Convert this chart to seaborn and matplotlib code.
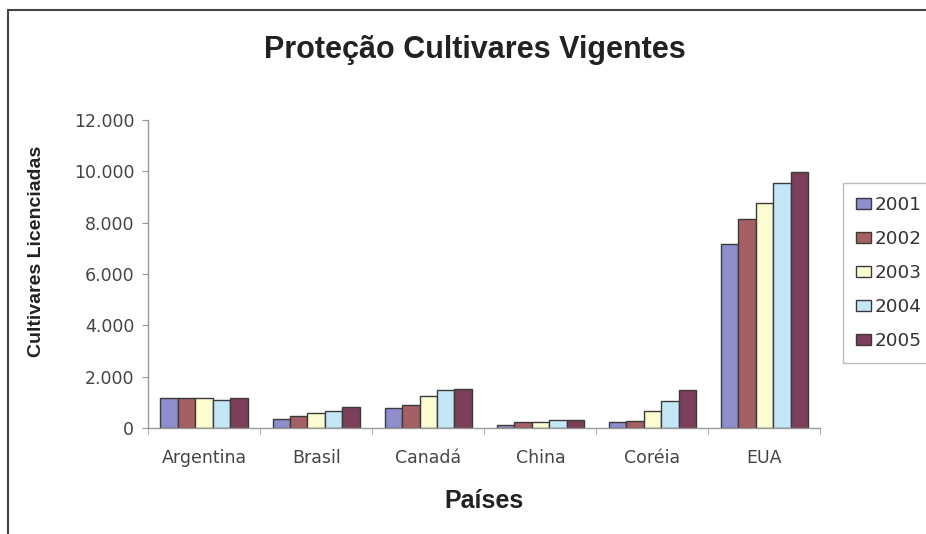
import pandas as pd
import seaborn as sns
import matplotlib.pyplot as plt
from matplotlib.lines import Line2D
from matplotlib.ticker import FuncFormatter, MultipleLocator

# Dados
paises = ['Argentina', 'Brasil', 'Canadá', 'China', 'Coréia', 'EUA']
anos = ['2001', '2002', '2003', '2004', '2005']
v2001 = [1150, 350, 780, 120, 240, 7170]
v2002 = [1150, 470, 900, 230, 270, 8140]
v2003 = [1150, 580, 1250, 230, 660, 8770]
v2004 = [1100, 660, 1480, 310, 1050, 9550]
v2005 = [1150, 820, 1520, 310, 1480, 9970]
cores = ['#8f8dcb', '#a65f63', '#fdfbd0', '#c3e7f7', '#7b3f59']

df = pd.DataFrame({'País': paises, '2001': v2001, '2002': v2002,
                   '2003': v2003, '2004': v2004, '2005': v2005})
df_long = df.melt(id_vars='País', var_name='Ano', value_name='Cultivares')

sns.set_style('white')
plt.rcParams['font.family'] = ['Liberation Sans', 'DejaVu Sans']

fig = plt.figure(figsize=(9.26, 5.34), dpi=100)
ax = fig.add_axes([0.16, 0.1985, 0.726, 0.5765])

sns.barplot(data=df_long, x='País', y='Cultivares', hue='Ano', hue_order=anos,
            palette=cores, width=0.78, edgecolor='#3a3a3a', linewidth=1.0,
            saturation=1, ax=ax, legend=True)

ax.set_ylim(0, 12000)
ax.set_xlim(-0.5, 5.5)
ax.yaxis.set_major_locator(MultipleLocator(2000))
ax.yaxis.set_major_formatter(FuncFormatter(lambda v, p: f'{int(v):,}'.replace(',', '.')))
ax.set_xticks([i - 0.5 for i in range(7)], minor=True)
ax.tick_params(axis='x', which='major', length=0, colors='#444444', pad=15)
ax.tick_params(axis='x', which='minor', length=4, color='#999999', direction='out', bottom=True)
ax.tick_params(axis='y', length=4, color='#999999', direction='out', left=True,
               colors='#444444', pad=6)
for t in ax.get_xticklabels() + ax.get_yticklabels():
    t.set_family('DejaVu Sans')
    t.set_fontsize(12.5)

for s in ['top', 'right']:
    ax.spines[s].set_visible(False)
for s in ['left', 'bottom']:
    ax.spines[s].set_color('#999999')
    ax.spines[s].set_linewidth(1)

fig.text(475 / 926, 1 - 50 / 534, 'Proteção Cultivares Vigentes', fontsize=22,
         fontweight='bold', color='#222222', ha='center', va='center')
ax.set_xlabel('Países', fontsize=18, fontweight='bold', color='#222222', labelpad=16)
ax.set_ylabel('Cultivares Licenciadas', fontsize=14, fontweight='bold', color='#222222')
ax.yaxis.set_label_coords(-0.154, 0.575)

leg = ax.legend(title=None, loc='upper left', bbox_to_anchor=(834 / 926, 1 - 174 / 534),
                bbox_transform=fig.transFigure, frameon=True, fancybox=False,
                prop={'family': 'DejaVu Sans', 'size': 13.2},
                handlelength=0.8, handleheight=0.6, handletextpad=0.2,
                labelspacing=0.87, borderpad=0.7, labelcolor='#333333')
leg.get_frame().set_edgecolor('#aaaaaa')
leg.get_frame().set_linewidth(1)

# moldura do gráfico (cortada à direita e embaixo)
fig.add_artist(Line2D([8 / 926, 1], [1 - 10 / 534, 1 - 10 / 534], color='#444444', lw=1.5))
fig.add_artist(Line2D([8 / 926, 8 / 926], [0, 1 - 10 / 534], color='#444444', lw=1.5))

fig.savefig('out.png', dpi=100)
